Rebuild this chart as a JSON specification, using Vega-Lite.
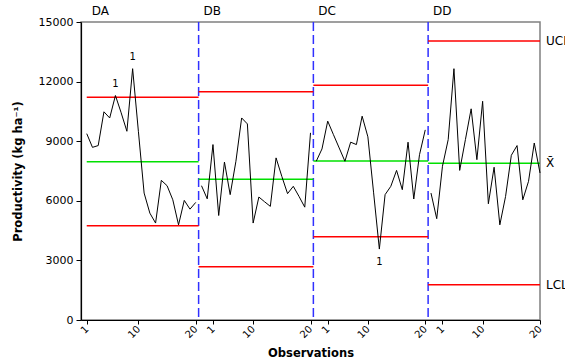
{
  "$schema": "https://vega.github.io/schema/vega-lite/v6.json",
  "width": 459,
  "height": 298,
  "autosize": {"type": "none"},
  "padding": {"left": 81, "top": 22, "right": 25, "bottom": 42},
  "background": "white",
  "config": {
    "view": {"stroke": "#808080", "strokeWidth": 1.5},
    "font": "DejaVu Sans",
    "axis": {"grid": false, "domainColor": "black", "tickColor": "black", "labelColor": "black", "titleColor": "black"}
  },
  "datasets": {
    "obs": [
      {"obs": 1, "stage": "DA", "value": 9380, "signal": ""},
      {"obs": 2, "stage": "DA", "value": 8690, "signal": ""},
      {"obs": 3, "stage": "DA", "value": 8780, "signal": ""},
      {"obs": 4, "stage": "DA", "value": 10480, "signal": ""},
      {"obs": 5, "stage": "DA", "value": 10170, "signal": ""},
      {"obs": 6, "stage": "DA", "value": 11300, "signal": "1"},
      {"obs": 7, "stage": "DA", "value": 10430, "signal": ""},
      {"obs": 8, "stage": "DA", "value": 9500, "signal": ""},
      {"obs": 9, "stage": "DA", "value": 12650, "signal": "1"},
      {"obs": 10, "stage": "DA", "value": 9500, "signal": ""},
      {"obs": 11, "stage": "DA", "value": 6390, "signal": ""},
      {"obs": 12, "stage": "DA", "value": 5380, "signal": ""},
      {"obs": 13, "stage": "DA", "value": 4880, "signal": ""},
      {"obs": 14, "stage": "DA", "value": 7030, "signal": ""},
      {"obs": 15, "stage": "DA", "value": 6760, "signal": ""},
      {"obs": 16, "stage": "DA", "value": 6050, "signal": ""},
      {"obs": 17, "stage": "DA", "value": 4790, "signal": ""},
      {"obs": 18, "stage": "DA", "value": 6020, "signal": ""},
      {"obs": 19, "stage": "DA", "value": 5580, "signal": ""},
      {"obs": 20, "stage": "DA", "value": 5920, "signal": ""},
      {"obs": 21, "stage": "DB", "value": 6760, "signal": ""},
      {"obs": 22, "stage": "DB", "value": 6100, "signal": ""},
      {"obs": 23, "stage": "DB", "value": 8830, "signal": ""},
      {"obs": 24, "stage": "DB", "value": 5260, "signal": ""},
      {"obs": 25, "stage": "DB", "value": 7950, "signal": ""},
      {"obs": 26, "stage": "DB", "value": 6310, "signal": ""},
      {"obs": 27, "stage": "DB", "value": 7990, "signal": ""},
      {"obs": 28, "stage": "DB", "value": 10170, "signal": ""},
      {"obs": 29, "stage": "DB", "value": 9870, "signal": ""},
      {"obs": 30, "stage": "DB", "value": 4880, "signal": ""},
      {"obs": 31, "stage": "DB", "value": 6190, "signal": ""},
      {"obs": 32, "stage": "DB", "value": 5950, "signal": ""},
      {"obs": 33, "stage": "DB", "value": 5720, "signal": ""},
      {"obs": 34, "stage": "DB", "value": 8160, "signal": ""},
      {"obs": 35, "stage": "DB", "value": 7230, "signal": ""},
      {"obs": 36, "stage": "DB", "value": 6360, "signal": ""},
      {"obs": 37, "stage": "DB", "value": 6730, "signal": ""},
      {"obs": 38, "stage": "DB", "value": 6220, "signal": ""},
      {"obs": 39, "stage": "DB", "value": 5680, "signal": ""},
      {"obs": 40, "stage": "DB", "value": 9420, "signal": ""},
      {"obs": 41, "stage": "DC", "value": 7990, "signal": ""},
      {"obs": 42, "stage": "DC", "value": 8610, "signal": ""},
      {"obs": 43, "stage": "DC", "value": 10010, "signal": ""},
      {"obs": 44, "stage": "DC", "value": 9330, "signal": ""},
      {"obs": 45, "stage": "DC", "value": 8660, "signal": ""},
      {"obs": 46, "stage": "DC", "value": 7990, "signal": ""},
      {"obs": 47, "stage": "DC", "value": 8950, "signal": ""},
      {"obs": 48, "stage": "DC", "value": 8830, "signal": ""},
      {"obs": 49, "stage": "DC", "value": 10260, "signal": ""},
      {"obs": 50, "stage": "DC", "value": 9220, "signal": ""},
      {"obs": 51, "stage": "DC", "value": 6400, "signal": ""},
      {"obs": 52, "stage": "DC", "value": 3570, "signal": "1"},
      {"obs": 53, "stage": "DC", "value": 6310, "signal": ""},
      {"obs": 54, "stage": "DC", "value": 6730, "signal": ""},
      {"obs": 55, "stage": "DC", "value": 7530, "signal": ""},
      {"obs": 56, "stage": "DC", "value": 6560, "signal": ""},
      {"obs": 57, "stage": "DC", "value": 8950, "signal": ""},
      {"obs": 58, "stage": "DC", "value": 6090, "signal": ""},
      {"obs": 59, "stage": "DC", "value": 8320, "signal": ""},
      {"obs": 60, "stage": "DC", "value": 9570, "signal": ""},
      {"obs": 61, "stage": "DD", "value": 6390, "signal": ""},
      {"obs": 62, "stage": "DD", "value": 5100, "signal": ""},
      {"obs": 63, "stage": "DD", "value": 7740, "signal": ""},
      {"obs": 64, "stage": "DD", "value": 9080, "signal": ""},
      {"obs": 65, "stage": "DD", "value": 12650, "signal": ""},
      {"obs": 66, "stage": "DD", "value": 7530, "signal": ""},
      {"obs": 67, "stage": "DD", "value": 9080, "signal": ""},
      {"obs": 68, "stage": "DD", "value": 10630, "signal": ""},
      {"obs": 69, "stage": "DD", "value": 8070, "signal": ""},
      {"obs": 70, "stage": "DD", "value": 11010, "signal": ""},
      {"obs": 71, "stage": "DD", "value": 5850, "signal": ""},
      {"obs": 72, "stage": "DD", "value": 7690, "signal": ""},
      {"obs": 73, "stage": "DD", "value": 4790, "signal": ""},
      {"obs": 74, "stage": "DD", "value": 6220, "signal": ""},
      {"obs": 75, "stage": "DD", "value": 8290, "signal": ""},
      {"obs": 76, "stage": "DD", "value": 8780, "signal": ""},
      {"obs": 77, "stage": "DD", "value": 6050, "signal": ""},
      {"obs": 78, "stage": "DD", "value": 6980, "signal": ""},
      {"obs": 79, "stage": "DD", "value": 8910, "signal": ""},
      {"obs": 80, "stage": "DD", "value": 7400, "signal": ""}
    ],
    "limits": [
      {"stage": "DA", "start": 1, "end": 20.5, "ucl": 11210, "mean": 7960, "lcl": 4750},
      {"stage": "DB", "start": 20.5, "end": 40.5, "ucl": 11490, "mean": 7090, "lcl": 2680},
      {"stage": "DC", "start": 40.5, "end": 60.5, "ucl": 11820, "mean": 8000, "lcl": 4190},
      {"stage": "DD", "start": 60.5, "end": 80, "ucl": 14040, "mean": 7890, "lcl": 1770}
    ]
  },
  "layer": [
    {
      "data": {"name": "limits"},
      "transform": [{"filter": "datum.stage != 'DA'"}],
      "mark": {"type": "rule", "color": "#3030FF", "strokeWidth": 1.5, "strokeDash": [9, 4]},
      "encoding": {
        "x": {"field": "start", "type": "quantitative", "scale": {"domain": [0, 80], "nice": false, "zero": false}}
      }
    },
    {
      "data": {"name": "limits"},
      "mark": {"type": "rule", "color": "#FF0000", "strokeWidth": 1.5},
      "encoding": {
        "x": {"field": "start", "type": "quantitative"},
        "x2": {"field": "end"},
        "y": {"field": "ucl", "type": "quantitative", "scale": {"domain": [0, 15000], "nice": false}}
      }
    },
    {
      "data": {"name": "limits"},
      "mark": {"type": "rule", "color": "#FF0000", "strokeWidth": 1.5},
      "encoding": {
        "x": {"field": "start", "type": "quantitative"},
        "x2": {"field": "end"},
        "y": {"field": "lcl", "type": "quantitative"}
      }
    },
    {
      "data": {"name": "limits"},
      "mark": {"type": "rule", "color": "#00E000", "strokeWidth": 1.5},
      "encoding": {
        "x": {"field": "start", "type": "quantitative"},
        "x2": {"field": "end"},
        "y": {"field": "mean", "type": "quantitative"}
      }
    },
    {
      "data": {"name": "obs"},
      "mark": {"type": "line", "color": "black", "strokeWidth": 1},
      "encoding": {
        "x": {
          "field": "obs", "type": "quantitative",
          "axis": {
            "title": "Observations",
            "titleFont": "DejaVu Sans", "titleFontSize": 11.5, "titleFontWeight": "bold", "titlePadding": 8,
            "values": [1, 10, 20, 23, 30, 40, 43, 50, 60, 63, 70, 80],
            "labelExpr": "(datum.value == 1 || datum.value == 23 || datum.value == 43 || datum.value == 63) ? '1' : (datum.value % 20 == 0 ? '20' : '10')",
            "labelAngle": -45, "labelAlign": "right", "labelBaseline": "middle",
            "labelFontSize": 10, "labelPadding": 3, "tickSize": 4, "domainWidth": 1.2
          }
        },
        "y": {
          "field": "value", "type": "quantitative",
          "axis": {
            "title": "Productivity  (kg ha⁻¹)",
            "titleFont": "DejaVu Sans", "titleFontSize": 11.5, "titleFontWeight": "bold",
            "titleAngle": -90, "titleX": -63, "titleY": 149, "titleAlign": "center", "titleBaseline": "middle",
            "values": [0, 3000, 6000, 9000, 12000, 15000], "format": "d",
            "labelFontSize": 11, "labelPadding": 3, "tickSize": 5, "domainWidth": 1.2
          }
        },
        "detail": {"field": "stage"}
      }
    },
    {
      "data": {"name": "obs"},
      "transform": [{"filter": "datum.signal != '' && datum.value > 10000"}],
      "mark": {"type": "text", "fontSize": 10, "dy": -12, "color": "black"},
      "encoding": {
        "x": {"field": "obs", "type": "quantitative"},
        "y": {"field": "value", "type": "quantitative"},
        "text": {"field": "signal"}
      }
    },
    {
      "data": {"name": "obs"},
      "transform": [{"filter": "datum.signal != '' && datum.value < 5000"}],
      "mark": {"type": "text", "fontSize": 10, "dy": 13, "color": "black"},
      "encoding": {
        "x": {"field": "obs", "type": "quantitative"},
        "y": {"field": "value", "type": "quantitative"},
        "text": {"field": "signal"}
      }
    },
    {
      "data": {"name": "limits"},
      "mark": {"type": "text", "fontSize": 12, "align": "left", "baseline": "bottom", "dx": 5, "dy": -4, "color": "black"},
      "encoding": {
        "x": {"field": "start", "type": "quantitative"},
        "y": {"datum": 15000, "type": "quantitative"},
        "text": {"field": "stage"}
      }
    },
    {
      "data": {"name": "limits"},
      "transform": [{"filter": "datum.stage == 'DD'"}, {"calculate": "'UCL'", "as": "lab"}],
      "mark": {"type": "text", "fontSize": 12, "align": "left", "baseline": "middle", "dx": 6, "color": "black"},
      "encoding": {
        "x": {"field": "end", "type": "quantitative"},
        "y": {"field": "ucl", "type": "quantitative"},
        "text": {"field": "lab"}
      }
    },
    {
      "data": {"name": "limits"},
      "transform": [{"filter": "datum.stage == 'DD'"}, {"calculate": "'X̄'", "as": "lab"}],
      "mark": {"type": "text", "fontSize": 12, "align": "left", "baseline": "middle", "dx": 6, "color": "black"},
      "encoding": {
        "x": {"field": "end", "type": "quantitative"},
        "y": {"field": "mean", "type": "quantitative"},
        "text": {"field": "lab"}
      }
    },
    {
      "data": {"name": "limits"},
      "transform": [{"filter": "datum.stage == 'DD'"}, {"calculate": "'LCL'", "as": "lab"}],
      "mark": {"type": "text", "fontSize": 12, "align": "left", "baseline": "middle", "dx": 6, "color": "black"},
      "encoding": {
        "x": {"field": "end", "type": "quantitative"},
        "y": {"field": "lcl", "type": "quantitative"},
        "text": {"field": "lab"}
      }
    }
  ]
}
